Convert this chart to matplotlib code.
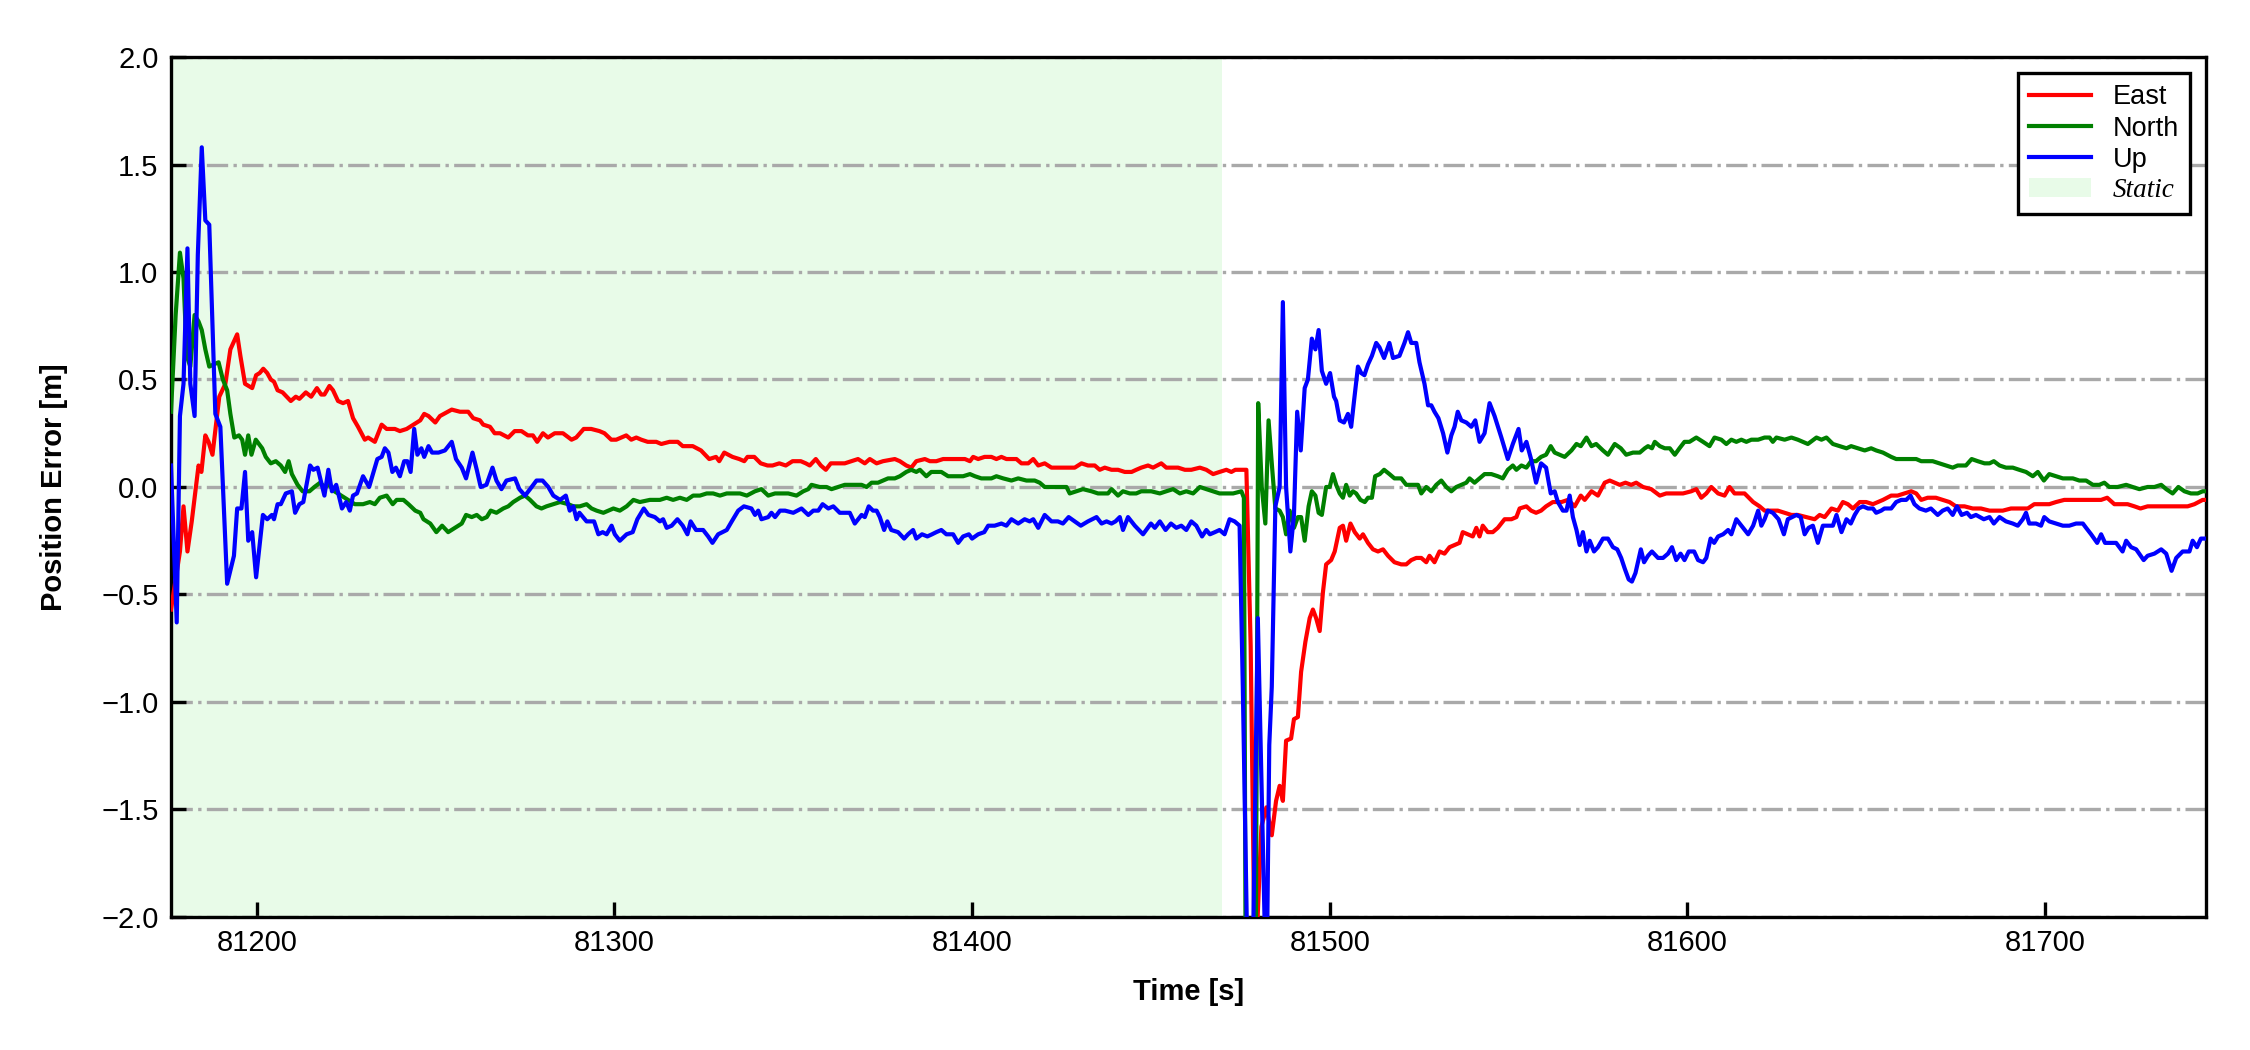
import matplotlib
matplotlib.use("Agg")
import matplotlib.pyplot as plt
from matplotlib.patches import Patch
from matplotlib.lines import Line2D

plt.rcParams['font.family'] = ['Liberation Sans', 'DejaVu Sans']

# ---------------- data ----------------
east_t = [81176.0, 81178.5, 81179.5, 81180.6, 81181.8, 81183.7, 81184.5, 81185.6, 81186.5, 81187.6,
          81188.6, 81189.5, 81191.2, 81192.6, 81194.5, 81195.4, 81196.7, 81198.7, 81199.8, 81200.8,
          81201.8, 81202.9, 81203.9, 81204.8, 81205.8, 81207.2, 81209.5, 81210.9, 81211.9, 81213.7,
          81215.2, 81216.8, 81218.0, 81218.9, 81220.3, 81221.3, 81222.7, 81224.1, 81225.5, 81226.9,
          81228.3, 81230.2, 81231.1, 81233.0, 81234.9, 81236.3, 81238.6, 81240.0, 81241.9, 81243.8,
          81245.7, 81246.8, 81248.0, 81249.9, 81251.2, 81254.5, 81256.8, 81259.1, 81260.5, 81262.4,
          81263.3, 81265.2, 81266.5, 81268.0, 81270.3, 81272.1, 81274.0, 81275.8, 81277.2, 81278.4,
          81280.0, 81281.4, 81283.3, 81285.6, 81288.0, 81289.3, 81291.4, 81293.5, 81295.8, 81297.2,
          81299.1, 81300.5, 81301.9, 81303.3, 81304.7, 81306.1, 81307.5, 81309.3, 81311.7, 81313.1,
          81315.4, 81317.7, 81319.1, 81321.9, 81324.2, 81326.5, 81328.4, 81329.3, 81330.7, 81333.0,
          81334.9, 81336.3, 81337.2, 81339.1, 81340.9, 81342.8, 81344.2, 81346.1, 81347.9, 81349.8,
          81352.1, 81353.5, 81354.6, 81356.3, 81357.7, 81359.1, 81360.5, 81362.8, 81364.4, 81368.1,
          81370.0, 81371.4, 81373.3, 81375.1, 81378.4, 81379.8, 81381.6, 81383.0, 81384.4, 81386.8,
          81388.2, 81390.0, 81391.9, 81393.8, 81396.1, 81398.0, 81399.4, 81400.3, 81401.7, 81403.5,
          81405.4, 81406.8, 81408.2, 81409.6, 81411.0, 81412.4, 81413.8, 81415.7, 81417.1, 81418.5,
          81420.3, 81422.2, 81424.0, 81425.9, 81428.7, 81430.6, 81432.4, 81434.3, 81435.7, 81437.1,
          81439.0, 81440.8, 81442.7, 81444.6, 81445.9, 81447.3, 81449.2, 81450.6, 81452.9, 81454.3,
          81456.2, 81457.6, 81459.5, 81461.3, 81463.7, 81465.5, 81467.4, 81469.2, 81471.1, 81472.5,
          81473.6, 81476.7, 81477.9, 81479.1, 81480.9, 81482.3, 81483.8, 81485.0, 81486.0, 81486.9,
          81487.8, 81489.2, 81490.0, 81491.1, 81492.0, 81493.2, 81494.4, 81495.3, 81496.2, 81497.2,
          81498.1, 81499.0, 81500.4, 81501.4, 81502.8, 81503.7, 81504.6, 81505.8, 81507.0, 81508.4,
          81509.3, 81510.7, 81512.1, 81513.5, 81514.9, 81516.3, 81518.1, 81520.0, 81521.4, 81522.8,
          81524.2, 81525.6, 81527.0, 81527.9, 81529.3, 81530.7, 81532.1, 81533.5, 81534.9, 81536.3,
          81537.2, 81538.6, 81540.0, 81541.0, 81541.9, 81542.8, 81544.2, 81545.6, 81547.0, 81548.9,
          81550.8, 81552.2, 81553.1, 81555.0, 81556.3, 81557.7, 81559.1, 81560.5, 81562.4, 81564.8,
          81566.6, 81568.5, 81570.2, 81571.3, 81573.2, 81575.0, 81576.9, 81578.3, 81579.7, 81581.1,
          81582.7, 81584.3, 81585.7, 81587.6, 81589.9, 81592.3, 81594.1, 81596.5, 81598.8, 81601.1,
          81602.5, 81603.9, 81605.3, 81606.7, 81608.6, 81610.4, 81611.8, 81613.2, 81616.0, 81618.4,
          81620.2, 81621.6, 81623.5, 81625.3, 81627.2, 81629.1, 81630.9, 81633.3, 81635.6, 81637.0,
          81638.4, 81640.3, 81642.1, 81643.5, 81644.9, 81646.3, 81648.2, 81650.0, 81651.9, 81653.3,
          81654.7, 81657.0, 81658.8, 81660.7, 81662.6, 81664.0, 81665.4, 81667.2, 81669.5, 81671.4,
          81673.3, 81675.1, 81677.5, 81679.8, 81682.1, 81684.5, 81685.9, 81688.2, 81690.5, 81692.8,
          81695.2, 81697.0, 81698.9, 81701.2, 81703.1, 81705.4, 81707.3, 81709.2, 81711.5, 81713.8,
          81715.7, 81717.4, 81719.4, 81721.3, 81723.1, 81725.0, 81726.7, 81728.7, 81731.1, 81732.9,
          81735.3, 81737.6, 81739.9, 81741.8, 81744.1, 81745.0]
east_v = [-0.57, -0.30, -0.09, -0.30, -0.16, 0.10, 0.07, 0.24, 0.21, 0.15,
          0.29, 0.42, 0.48, 0.64, 0.71, 0.61, 0.48, 0.46, 0.52, 0.53,
          0.55, 0.53, 0.50, 0.49, 0.45, 0.44, 0.40, 0.42, 0.41, 0.44,
          0.42, 0.46, 0.43, 0.43, 0.47, 0.45, 0.40, 0.39, 0.40, 0.32,
          0.28, 0.22, 0.23, 0.21, 0.29, 0.27, 0.27, 0.26, 0.27, 0.29,
          0.31, 0.34, 0.33, 0.30, 0.33, 0.36, 0.35, 0.35, 0.32, 0.31,
          0.29, 0.28, 0.25, 0.25, 0.23, 0.26, 0.26, 0.24, 0.24, 0.21,
          0.25, 0.23, 0.25, 0.25, 0.22, 0.23, 0.27, 0.27, 0.26, 0.25,
          0.22, 0.22, 0.23, 0.24, 0.22, 0.23, 0.22, 0.21, 0.21, 0.20,
          0.21, 0.21, 0.19, 0.19, 0.17, 0.13, 0.14, 0.12, 0.16, 0.14,
          0.13, 0.12, 0.14, 0.14, 0.11, 0.10, 0.10, 0.11, 0.10, 0.12,
          0.12, 0.11, 0.10, 0.13, 0.10, 0.08, 0.11, 0.11, 0.11, 0.13,
          0.11, 0.13, 0.11, 0.12, 0.13, 0.12, 0.10, 0.09, 0.12, 0.13,
          0.12, 0.12, 0.13, 0.13, 0.13, 0.13, 0.12, 0.14, 0.13, 0.14,
          0.14, 0.13, 0.14, 0.13, 0.13, 0.13, 0.11, 0.11, 0.13, 0.10,
          0.11, 0.09, 0.09, 0.09, 0.09, 0.11, 0.10, 0.10, 0.08, 0.09,
          0.08, 0.08, 0.07, 0.07, 0.08, 0.09, 0.10, 0.09, 0.11, 0.09,
          0.09, 0.09, 0.08, 0.08, 0.09, 0.08, 0.06, 0.07, 0.08, 0.07,
          0.08, 0.08, -0.74, -2.30, -1.58, -1.49, -1.62, -1.46, -1.39, -1.46,
          -1.18, -1.17, -1.08, -1.07, -0.86, -0.72, -0.61, -0.57, -0.61, -0.67,
          -0.49, -0.36, -0.34, -0.30, -0.19, -0.18, -0.25, -0.17, -0.21, -0.24,
          -0.22, -0.26, -0.29, -0.30, -0.29, -0.32, -0.35, -0.36, -0.36, -0.34,
          -0.33, -0.33, -0.35, -0.32, -0.35, -0.30, -0.31, -0.28, -0.27, -0.26,
          -0.21, -0.22, -0.23, -0.19, -0.23, -0.18, -0.21, -0.21, -0.19, -0.15,
          -0.15, -0.14, -0.10, -0.09, -0.11, -0.12, -0.11, -0.09, -0.07, -0.07,
          -0.06, -0.09, -0.04, -0.06, -0.02, -0.04, 0.02, 0.03, 0.02, 0.01,
          0.02, 0.01, 0.02, 0.00, -0.01, -0.04, -0.03, -0.03, -0.03, -0.02,
          -0.01, -0.05, -0.03, 0.00, -0.03, -0.04, 0.00, -0.03, -0.03, -0.07,
          -0.09, -0.11, -0.11, -0.11, -0.12, -0.13, -0.13, -0.14, -0.15, -0.13,
          -0.14, -0.10, -0.11, -0.07, -0.08, -0.10, -0.07, -0.07, -0.08, -0.07,
          -0.06, -0.04, -0.04, -0.03, -0.02, -0.03, -0.06, -0.05, -0.05, -0.06,
          -0.07, -0.09, -0.09, -0.10, -0.10, -0.11, -0.11, -0.11, -0.10, -0.10,
          -0.10, -0.08, -0.08, -0.08, -0.07, -0.06, -0.06, -0.06, -0.06, -0.06,
          -0.06, -0.05, -0.08, -0.08, -0.08, -0.09, -0.10, -0.09, -0.09, -0.09,
          -0.09, -0.09, -0.09, -0.08, -0.06, -0.06]

north_t = [81176.0, 81177.3, 81178.5, 81179.5, 81180.4, 81181.4, 81182.6, 81183.7, 81184.6, 81185.6,
           81186.7, 81187.9, 81189.3, 81190.5, 81191.7, 81192.6, 81193.7, 81195.0, 81195.9, 81196.7,
           81197.6, 81198.5, 81199.7, 81201.5, 81202.5, 81203.9, 81205.3, 81206.7, 81207.9, 81208.9,
           81209.8, 81211.4, 81212.8, 81214.7, 81216.1, 81217.7, 81218.9, 81220.3, 81221.7, 81223.6,
           81225.5, 81227.4, 81229.7, 81231.6, 81233.0, 81234.4, 81236.3, 81238.0, 81239.1, 81241.0,
           81242.4, 81244.3, 81245.7, 81246.6, 81248.5, 81250.2, 81251.8, 81253.5, 81255.4, 81257.3,
           81258.5, 81260.1, 81261.5, 81262.9, 81264.3, 81265.4, 81267.0, 81268.9, 81270.3, 81271.7,
           81273.6, 81275.0, 81276.4, 81278.2, 81279.6, 81281.0, 81282.9, 81284.8, 81287.1, 81288.5,
           81290.3, 81292.2, 81293.6, 81295.0, 81296.9, 81298.3, 81299.7, 81301.5, 81303.4, 81305.3,
           81307.1, 81309.9, 81312.7, 81314.6, 81316.4, 81318.3, 81320.2, 81322.0, 81323.9, 81325.8,
           81327.6, 81329.5, 81331.4, 81333.2, 81335.1, 81337.0, 81339.3, 81341.1, 81343.0, 81344.9,
           81346.7, 81348.6, 81350.9, 81352.8, 81354.2, 81355.1, 81357.4, 81359.3, 81360.7, 81362.6,
           81364.4, 81366.3, 81369.1, 81370.5, 81371.9, 81373.7, 81375.1, 81376.5, 81378.4, 81379.8,
           81381.6, 81383.0, 81384.4, 81385.4, 81387.2, 81388.6, 81390.0, 81391.4, 81393.3, 81395.2,
           81397.5, 81399.4, 81400.8, 81402.6, 81404.0, 81405.4, 81406.8, 81408.7, 81411.0, 81412.9,
           81415.2, 81417.5, 81418.9, 81420.3, 81422.2, 81424.5, 81426.4, 81427.3, 81429.2, 81431.0,
           81433.4, 81435.2, 81438.0, 81439.0, 81440.8, 81442.2, 81444.1, 81445.9, 81447.3, 81450.1,
           81452.5, 81454.3, 81456.2, 81458.1, 81459.9, 81461.8, 81463.7, 81465.5, 81467.4, 81469.2,
           81471.1, 81473.0, 81475.3, 81476.0, 81477.8, 81480.0, 81481.0, 81482.0, 81482.9, 81483.8,
           81484.8, 81486.0, 81486.9, 81487.8, 81488.8, 81490.0, 81491.1, 81492.0, 81493.0, 81494.1,
           81495.0, 81496.0, 81496.9, 81497.8, 81499.0, 81500.0, 81500.9, 81501.8, 81502.8, 81503.7,
           81504.6, 81505.6, 81506.5, 81507.4, 81508.6, 81509.8, 81510.7, 81511.8, 81512.7, 81514.0,
           81515.2, 81516.7, 81518.1, 81520.0, 81521.4, 81522.8, 81524.7, 81525.6, 81527.0, 81528.4,
           81529.8, 81531.2, 81532.6, 81534.0, 81535.4, 81536.8, 81538.2, 81539.1, 81540.5, 81541.9,
           81543.3, 81545.2, 81547.0, 81548.4, 81549.8, 81551.2, 81552.2, 81553.6, 81555.0, 81556.3,
           81557.7, 81559.1, 81560.5, 81561.8, 81562.9, 81565.7, 81567.6, 81569.0, 81570.2, 81571.8,
           81573.2, 81574.5, 81576.4, 81577.8, 81579.7, 81581.4, 81582.9, 81584.8, 81586.7, 81588.1,
           81589.0, 81590.1, 81590.9, 81592.3, 81593.7, 81595.1, 81596.5, 81597.8, 81599.2, 81600.6,
           81602.5, 81604.4, 81606.2, 81607.6, 81609.5, 81610.9, 81612.3, 81613.7, 81615.1, 81616.5,
           81617.9, 81619.8, 81621.6, 81623.0, 81623.9, 81624.9, 81627.2, 81629.1, 81630.9, 81633.7,
           81636.1, 81637.5, 81638.9, 81640.7, 81642.6, 81644.5, 81645.8, 81647.7, 81649.6, 81651.4,
           81652.8, 81654.7, 81657.0, 81658.4, 81659.8, 81661.2, 81662.6, 81664.0, 81665.4, 81666.8,
           81668.6, 81670.5, 81672.3, 81674.2, 81675.6, 81677.9, 81679.5, 81681.2, 81683.1, 81684.5,
           81685.7, 81687.3, 81689.1, 81691.0, 81692.8, 81694.7, 81696.6, 81698.0, 81699.7, 81701.2,
           81703.1, 81705.0, 81706.4, 81707.8, 81709.6, 81711.5, 81713.4, 81715.2, 81716.6, 81718.0,
           81720.3, 81722.7, 81724.5, 81726.4, 81728.7, 81730.6, 81732.5, 81733.9, 81735.7, 81737.3,
           81739.0, 81740.8, 81742.7, 81744.1, 81745.0]
north_v = [0.35, 0.80, 1.09, 0.97, 0.61, 0.56, 0.80, 0.77, 0.73, 0.64,
           0.56, 0.57, 0.58, 0.50, 0.45, 0.34, 0.23, 0.24, 0.22, 0.15,
           0.24, 0.15, 0.22, 0.18, 0.14, 0.11, 0.12, 0.10, 0.07, 0.12,
           0.06, 0.01, -0.02, -0.02, 0.00, 0.02, 0.00, 0.01, -0.02, -0.04,
           -0.06, -0.08, -0.08, -0.07, -0.08, -0.05, -0.04, -0.08, -0.06, -0.06,
           -0.08, -0.11, -0.12, -0.15, -0.17, -0.21, -0.18, -0.21, -0.19, -0.17,
           -0.13, -0.14, -0.13, -0.15, -0.14, -0.11, -0.12, -0.10, -0.09, -0.07,
           -0.05, -0.04, -0.06, -0.09, -0.10, -0.09, -0.08, -0.07, -0.08, -0.09,
           -0.09, -0.08, -0.10, -0.11, -0.12, -0.11, -0.10, -0.11, -0.09, -0.06,
           -0.07, -0.06, -0.06, -0.05, -0.06, -0.05, -0.06, -0.04, -0.04, -0.03,
           -0.03, -0.04, -0.03, -0.03, -0.03, -0.04, -0.02, -0.01, -0.04, -0.03,
           -0.03, -0.03, -0.04, -0.02, -0.01, 0.01, 0.00, 0.00, -0.01, 0.00,
           0.01, 0.01, 0.01, 0.00, 0.02, 0.02, 0.03, 0.04, 0.04, 0.05,
           0.07, 0.08, 0.07, 0.08, 0.05, 0.07, 0.07, 0.07, 0.05, 0.05,
           0.05, 0.06, 0.05, 0.04, 0.04, 0.04, 0.05, 0.04, 0.03, 0.04,
           0.03, 0.03, 0.02, 0.00, 0.00, 0.00, 0.00, -0.03, -0.02, -0.01,
           -0.02, -0.03, -0.03, -0.01, -0.04, -0.02, -0.03, -0.03, -0.02, -0.02,
           -0.03, -0.02, -0.01, -0.03, -0.02, -0.03, 0.00, -0.01, -0.02, -0.03,
           -0.03, -0.03, -0.02, -0.05, -8.00, 0.39, 0.00, -0.17, 0.31, 0.11,
           -0.10, -0.11, -0.14, -0.22, -0.11, -0.19, -0.14, -0.14, -0.25, -0.09,
           -0.02, -0.04, -0.12, -0.13, 0.00, 0.00, 0.06, 0.01, -0.03, -0.05,
           0.01, -0.04, -0.02, -0.03, -0.06, -0.07, -0.05, -0.05, 0.05, 0.06,
           0.08, 0.06, 0.04, 0.04, 0.01, 0.01, 0.01, -0.03, 0.00, -0.02,
           0.01, 0.03, 0.00, -0.02, 0.00, 0.01, 0.02, 0.04, 0.02, 0.04,
           0.06, 0.06, 0.05, 0.04, 0.08, 0.10, 0.08, 0.10, 0.09, 0.12,
           0.12, 0.14, 0.15, 0.19, 0.16, 0.14, 0.17, 0.20, 0.19, 0.23,
           0.19, 0.20, 0.17, 0.15, 0.20, 0.18, 0.15, 0.16, 0.16, 0.18,
           0.19, 0.18, 0.21, 0.19, 0.18, 0.18, 0.15, 0.18, 0.21, 0.21,
           0.23, 0.21, 0.19, 0.23, 0.22, 0.20, 0.22, 0.21, 0.22, 0.21,
           0.22, 0.22, 0.23, 0.23, 0.21, 0.23, 0.22, 0.23, 0.22, 0.20,
           0.23, 0.22, 0.23, 0.20, 0.19, 0.18, 0.19, 0.18, 0.17, 0.18,
           0.17, 0.16, 0.14, 0.13, 0.13, 0.13, 0.13, 0.13, 0.12, 0.12,
           0.12, 0.11, 0.10, 0.09, 0.10, 0.10, 0.13, 0.12, 0.11, 0.11,
           0.12, 0.10, 0.09, 0.09, 0.08, 0.07, 0.05, 0.07, 0.03, 0.06,
           0.05, 0.04, 0.04, 0.04, 0.03, 0.03, 0.01, 0.01, 0.02, 0.00,
           0.00, 0.01, 0.00, -0.01, 0.00, 0.00, 0.01, -0.01, -0.03, 0.00,
           -0.02, -0.03, -0.03, -0.02, -0.02]

up_t = [81176.0, 81177.6, 81178.5, 81179.5, 81180.6, 81181.4, 81182.6, 81183.5, 81184.6, 81185.6,
        81186.7, 81188.4, 81189.8, 81191.7, 81193.6, 81194.5, 81195.7, 81196.7, 81197.6, 81198.7,
        81199.8, 81201.7, 81202.9, 81204.2, 81204.8, 81205.8, 81206.7, 81208.1, 81209.8, 81210.7,
        81211.9, 81213.0, 81214.9, 81215.8, 81217.0, 81218.9, 81220.0, 81221.0, 81222.2, 81223.8,
        81225.0, 81226.0, 81226.9, 81228.0, 81229.7, 81231.4, 81233.7, 81234.9, 81235.8, 81236.8,
        81237.9, 81238.9, 81240.0, 81241.2, 81242.1, 81243.0, 81244.0, 81244.9, 81246.0, 81246.8,
        81248.0, 81249.0, 81250.8, 81252.6, 81254.5, 81255.7, 81257.3, 81258.5, 81260.3, 81261.5,
        81262.6, 81264.2, 81265.9, 81267.0, 81268.4, 81269.8, 81272.2, 81273.4, 81275.0, 81276.4,
        81278.2, 81279.9, 81281.5, 81282.9, 81284.8, 81286.4, 81287.5, 81288.5, 81289.4, 81290.2,
        81292.2, 81294.3, 81295.5, 81296.7, 81297.8, 81299.2, 81300.1, 81301.5, 81303.4, 81305.1,
        81306.4, 81308.2, 81309.5, 81311.3, 81312.7, 81313.6, 81314.6, 81316.0, 81317.6, 81319.1,
        81320.4, 81321.3, 81322.8, 81324.8, 81326.2, 81327.4, 81329.0, 81331.4, 81332.8, 81334.6,
        81336.2, 81338.3, 81339.3, 81340.2, 81341.1, 81343.0, 81343.9, 81344.9, 81346.3, 81347.7,
        81350.0, 81352.3, 81354.2, 81355.6, 81357.0, 81358.2, 81359.8, 81361.2, 81363.0, 81365.8,
        81367.2, 81369.1, 81370.0, 81371.1, 81372.3, 81373.3, 81374.2, 81375.4, 81376.3, 81377.4,
        81379.3, 81381.0, 81382.1, 81383.5, 81384.4, 81386.0, 81387.5, 81388.8, 81390.0, 81391.4,
        81392.8, 81394.7, 81396.1, 81397.5, 81399.1, 81400.0, 81401.7, 81403.4, 81404.5, 81406.3,
        81408.2, 81409.6, 81411.0, 81412.9, 81414.7, 81416.1, 81417.1, 81418.5, 81420.3, 81422.2,
        81424.0, 81425.4, 81427.0, 81428.7, 81430.4, 81432.4, 81434.8, 81436.2, 81437.6, 81439.0,
        81440.1, 81441.3, 81442.2, 81443.6, 81445.5, 81447.8, 81450.0, 81451.1, 81452.5, 81454.1,
        81455.6, 81457.1, 81458.5, 81459.9, 81461.3, 81462.7, 81464.3, 81465.5, 81466.5, 81467.9,
        81469.2, 81470.6, 81472.0, 81473.4, 81474.8, 81475.7, 81477.8, 81479.9, 81482.3, 81483.1,
        81483.8, 81484.8, 81486.0, 81486.9, 81487.8, 81489.0, 81490.0, 81490.9, 81491.9, 81493.0,
        81493.9, 81495.0, 81496.0, 81496.9, 81497.8, 81499.0, 81500.1, 81501.2, 81501.8, 81502.8,
        81504.0, 81505.1, 81506.0, 81506.8, 81507.9, 81508.8, 81509.7, 81510.7, 81511.8, 81513.0,
        81513.9, 81515.2, 81516.7, 81517.7, 81519.5, 81520.9, 81521.9, 81522.8, 81524.2, 81525.1,
        81526.5, 81527.5, 81528.4, 81529.3, 81530.4, 81531.7, 81532.9, 81534.0, 81534.9, 81535.8,
        81536.8, 81538.2, 81539.6, 81540.7, 81541.9, 81543.3, 81544.7, 81546.1, 81548.0, 81549.8,
        81551.2, 81552.8, 81553.7, 81555.0, 81556.3, 81557.7, 81559.1, 81560.5, 81561.8, 81562.9,
        81563.8, 81565.2, 81566.2, 81567.1, 81568.0, 81569.0, 81569.9, 81570.8, 81571.8, 81572.7,
        81573.9, 81575.0, 81576.4, 81577.8, 81579.2, 81580.4, 81581.5, 81582.5, 81583.6, 81584.5,
        81585.5, 81587.0, 81587.9, 81589.0, 81590.1, 81591.8, 81593.2, 81594.6, 81595.7, 81596.9,
        81598.1, 81599.2, 81600.4, 81601.9, 81603.0, 81604.4, 81605.3, 81606.5, 81607.5, 81608.6,
        81610.0, 81611.4, 81612.3, 81613.7, 81615.1, 81617.0, 81618.4, 81619.8, 81620.7, 81621.6,
        81622.5, 81623.9, 81625.5, 81627.0, 81628.1, 81629.3, 81630.5, 81631.7, 81632.8, 81633.9,
        81635.1, 81636.5, 81637.9, 81639.3, 81640.7, 81641.7, 81643.1, 81644.5, 81645.7, 81646.8,
        81647.9, 81649.1, 81650.5, 81651.9, 81652.8, 81654.2, 81655.1, 81657.0, 81658.4, 81659.8,
        81661.2, 81662.4, 81663.5, 81664.9, 81666.7, 81668.1, 81670.0, 81671.4, 81672.8, 81674.2,
        81675.4, 81676.7, 81678.2, 81679.3, 81680.7, 81682.9, 81684.5, 81685.7, 81687.3, 81689.1,
        81691.0, 81692.4, 81693.8, 81694.7, 81695.6, 81697.5, 81698.9, 81699.8, 81701.2, 81703.1,
        81705.0, 81706.8, 81708.7, 81710.6, 81711.5, 81712.9, 81714.6, 81715.7, 81716.8, 81718.5,
        81719.9, 81721.7, 81722.7, 81724.1, 81725.5, 81727.6, 81728.7, 81730.6, 81732.5, 81733.9,
        81735.4, 81736.7, 81738.5, 81740.4, 81741.3, 81742.5, 81743.6, 81745.0]
up_v = [0.10, -0.63, 0.33, 0.48, 1.11, 0.48, 0.33, 1.08, 1.58, 1.24,
        1.22, 0.34, 0.28, -0.45, -0.32, -0.10, -0.10, 0.07, -0.25, -0.21,
        -0.42, -0.13, -0.15, -0.13, -0.15, -0.08, -0.08, -0.03, -0.02, -0.12,
        -0.08, -0.07, 0.10, 0.08, 0.09, -0.04, 0.08, -0.02, 0.01, -0.10,
        -0.07, -0.11, -0.04, -0.03, 0.05, 0.00, 0.13, 0.14, 0.18, 0.16,
        0.07, 0.09, 0.05, 0.12, 0.12, 0.07, 0.27, 0.15, 0.18, 0.14,
        0.19, 0.16, 0.16, 0.17, 0.21, 0.13, 0.09, 0.04, 0.16, 0.08,
        0.00, 0.01, 0.09, 0.03, -0.01, 0.03, 0.04, -0.01, -0.04, -0.01,
        0.03, 0.03, 0.00, -0.04, -0.06, -0.04, -0.11, -0.09, -0.15, -0.12,
        -0.16, -0.16, -0.22, -0.21, -0.22, -0.18, -0.22, -0.25, -0.22, -0.21,
        -0.15, -0.10, -0.13, -0.14, -0.16, -0.15, -0.19, -0.18, -0.15, -0.18,
        -0.22, -0.16, -0.20, -0.20, -0.23, -0.26, -0.22, -0.20, -0.16, -0.11,
        -0.09, -0.10, -0.13, -0.11, -0.15, -0.14, -0.12, -0.14, -0.11, -0.11,
        -0.12, -0.10, -0.13, -0.11, -0.11, -0.08, -0.10, -0.09, -0.12, -0.12,
        -0.17, -0.13, -0.14, -0.09, -0.11, -0.11, -0.14, -0.20, -0.16, -0.20,
        -0.21, -0.24, -0.22, -0.20, -0.24, -0.22, -0.23, -0.22, -0.21, -0.20,
        -0.22, -0.22, -0.26, -0.23, -0.22, -0.24, -0.22, -0.21, -0.18, -0.18,
        -0.17, -0.18, -0.15, -0.17, -0.15, -0.16, -0.15, -0.19, -0.13, -0.16,
        -0.16, -0.17, -0.14, -0.16, -0.18, -0.16, -0.14, -0.17, -0.16, -0.17,
        -0.16, -0.14, -0.20, -0.14, -0.18, -0.22, -0.17, -0.19, -0.16, -0.20,
        -0.17, -0.19, -0.18, -0.20, -0.16, -0.18, -0.23, -0.20, -0.22, -0.21,
        -0.20, -0.22, -0.15, -0.16, -0.18, -0.93, -3.00, -0.61, -2.40, -1.20,
        -0.93, -0.09, 0.00, 0.86, 0.00, -0.30, -0.13, 0.35, 0.17, 0.46,
        0.50, 0.69, 0.64, 0.73, 0.54, 0.48, 0.53, 0.42, 0.40, 0.31,
        0.30, 0.34, 0.28, 0.40, 0.56, 0.53, 0.52, 0.57, 0.61, 0.67,
        0.65, 0.60, 0.67, 0.60, 0.61, 0.67, 0.72, 0.67, 0.67, 0.58,
        0.48, 0.38, 0.38, 0.35, 0.32, 0.25, 0.16, 0.24, 0.28, 0.35,
        0.31, 0.30, 0.28, 0.31, 0.21, 0.25, 0.39, 0.33, 0.23, 0.13,
        0.20, 0.27, 0.17, 0.21, 0.13, 0.02, 0.11, 0.09, -0.03, -0.02,
        -0.07, -0.11, -0.11, -0.04, -0.14, -0.20, -0.27, -0.21, -0.30, -0.25,
        -0.30, -0.28, -0.24, -0.24, -0.28, -0.29, -0.33, -0.38, -0.43, -0.44,
        -0.40, -0.29, -0.35, -0.32, -0.30, -0.33, -0.33, -0.31, -0.28, -0.34,
        -0.31, -0.34, -0.30, -0.30, -0.34, -0.35, -0.33, -0.24, -0.26, -0.23,
        -0.22, -0.20, -0.22, -0.15, -0.18, -0.22, -0.18, -0.11, -0.18, -0.15,
        -0.11, -0.12, -0.15, -0.22, -0.15, -0.14, -0.13, -0.14, -0.22, -0.19,
        -0.18, -0.26, -0.18, -0.18, -0.18, -0.13, -0.21, -0.15, -0.17, -0.13,
        -0.10, -0.09, -0.10, -0.10, -0.12, -0.11, -0.10, -0.10, -0.07, -0.06,
        -0.06, -0.04, -0.08, -0.10, -0.11, -0.10, -0.13, -0.11, -0.10, -0.13,
        -0.09, -0.13, -0.12, -0.14, -0.13, -0.15, -0.14, -0.17, -0.14, -0.16,
        -0.17, -0.18, -0.15, -0.12, -0.17, -0.17, -0.18, -0.14, -0.16, -0.17,
        -0.18, -0.18, -0.17, -0.17, -0.19, -0.22, -0.26, -0.22, -0.26, -0.26,
        -0.26, -0.30, -0.25, -0.28, -0.29, -0.34, -0.32, -0.31, -0.29, -0.31,
        -0.39, -0.33, -0.30, -0.30, -0.25, -0.28, -0.24, -0.24]

static_span = (81176.0, 81470.0)
series_labels = ["East", "North", "Up"]
series_colors = ["red", "green", "blue"]
x_ticks = [81200, 81300, 81400, 81500, 81600, 81700]
y_ticks = [-2.0, -1.5, -1.0, -0.5, 0.0, 0.5, 1.0, 1.5, 2.0]

# ---------------- figure ----------------
fig = plt.figure(figsize=(7.5, 3.5), dpi=300)
ax = fig.add_axes([0.076, 0.1267, 0.9044, 0.819])

ax.axvspan(static_span[0], static_span[1], color='lightgreen', alpha=0.2, lw=0, zorder=0)
ax.grid(axis='y', linestyle='-.', color='darkgray', linewidth=0.8, zorder=1)
ax.set_axisbelow(True)

for (t, v), lab, col in zip([(east_t, east_v), (north_t, north_v), (up_t, up_v)],
                            series_labels, series_colors):
    ax.plot(t, v, color=col, linewidth=1.0, label=lab, zorder=3)

ax.set_xlim(81176, 81745)
ax.set_ylim(-2.0, 2.0)
ax.set_xticks(x_ticks)
ax.set_yticks(y_ticks)
ax.set_yticklabels([f"{y:.1f}".replace("-", "\u2212") for y in y_ticks])
ax.tick_params(direction='in', length=3.5, width=0.8, labelsize=7, pad=3,
               top=False, right=False)
for s in ax.spines.values():
    s.set_linewidth(0.8)

ax.set_xlabel("Time [s]", fontsize=7, fontweight='bold', labelpad=5)
ax.set_ylabel("Position Error [m]", fontsize=7, fontweight='bold', labelpad=8)

handles = [Line2D([], [], color=c, lw=1.0) for c in series_colors]
handles.append(Patch(facecolor='lightgreen', alpha=0.2, edgecolor='none'))
leg = ax.legend(handles, series_labels + ["Static"], loc='upper right', fontsize=6.5,
                frameon=True, fancybox=False, edgecolor='black', framealpha=1,
                labelspacing=0.2, handlelength=2.3, handletextpad=0.8,
                borderpad=0.4, borderaxespad=0.6)
leg.get_frame().set_linewidth(0.8)
st = leg.get_texts()[3]
st.set_fontfamily(['Liberation Serif', 'DejaVu Serif'])
st.set_fontstyle('italic')

fig.savefig("out.png", dpi=300)
